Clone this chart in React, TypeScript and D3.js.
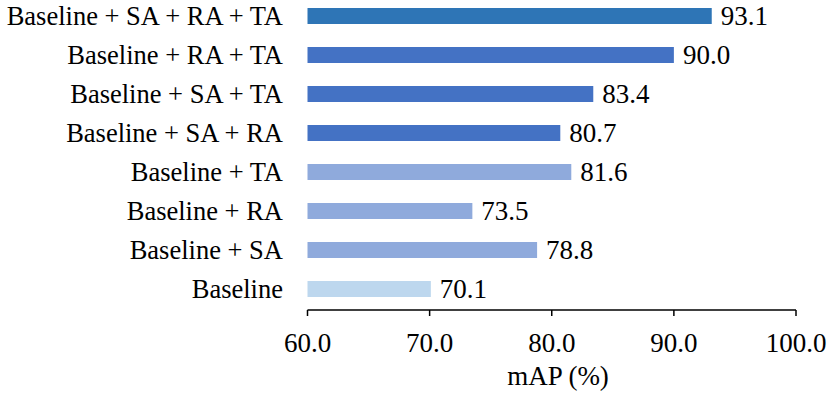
import React from "react";
import * as d3 from "d3";

const categories = [
  "Baseline + SA + RA + TA",
  "Baseline + RA + TA",
  "Baseline + SA + TA",
  "Baseline + SA + RA",
  "Baseline + TA",
  "Baseline + RA",
  "Baseline + SA",
  "Baseline",
];
const values = [93.1, 90.0, 83.4, 80.7, 81.6, 73.5, 78.8, 70.1];
const barColors = [
  "#2E75B6",
  "#4472C4",
  "#4472C4",
  "#4472C4",
  "#8FAADC",
  "#8FAADC",
  "#8FAADC",
  "#BDD7EE",
];
const xTicks = [60, 70, 80, 90, 100];
const xLabel = "mAP (%)";

const W = 831;
const H = 394;
const FONT = "Liberation Serif";

export default function App() {
  const x = d3.scaleLinear().domain([60, 100]).range([307.5, 796]);
  const y = d3
    .scaleBand<string>()
    .domain(categories)
    .range([-3.5, 308.5])
    .paddingInner(0.59)
    .paddingOuter(0.295);
  const axisY = 310;
  const catStyle: React.CSSProperties = { fontFamily: FONT, fontSize: "26.5px" };
  const numStyle: React.CSSProperties = { fontFamily: FONT, fontSize: "27px" };

  return (
    <svg
      width={W}
      height={H}
      style={{ position: "absolute", left: 0, top: 0, background: "#fff" }}
    >
      <rect x={0} y={0} width={W} height={H} fill="#fff" />
      {categories.map((c, i) => {
        const y0 = y(c)!;
        const cy = y0 + y.bandwidth() / 2;
        return (
          <g key={c}>
            <rect
              x={x(60)}
              y={y0}
              width={x(values[i]) - x(60)}
              height={y.bandwidth()}
              fill={barColors[i]}
            />
            <text
              x={283}
              y={cy}
              dy="0.35em"
              textAnchor="end"
              style={catStyle}
              fill="#000"
            >
              {c}
            </text>
            <text
              x={x(values[i]) + 9}
              y={cy}
              dy="0.35em"
              textAnchor="start"
              style={numStyle}
              fill="#000"
            >
              {d3.format(".1f")(values[i])}
            </text>
          </g>
        );
      })}
      <line
        x1={x(60)}
        x2={x(100)}
        y1={axisY}
        y2={axisY}
        stroke="#000"
        strokeWidth={1.5}
      />
      {xTicks.map((t) => (
        <g key={t}>
          <line
            x1={x(t)}
            x2={x(t)}
            y1={axisY}
            y2={axisY + 6}
            stroke="#000"
            strokeWidth={1.5}
          />
          <text
            x={x(t)}
            y={352}
            textAnchor="middle"
            style={numStyle}
            fill="#000"
          >
            {d3.format(".1f")(t)}
          </text>
        </g>
      ))}
      <text
        x={558}
        y={385}
        textAnchor="middle"
        style={numStyle}
        fill="#000"
      >
        {xLabel}
      </text>
    </svg>
  );
}
